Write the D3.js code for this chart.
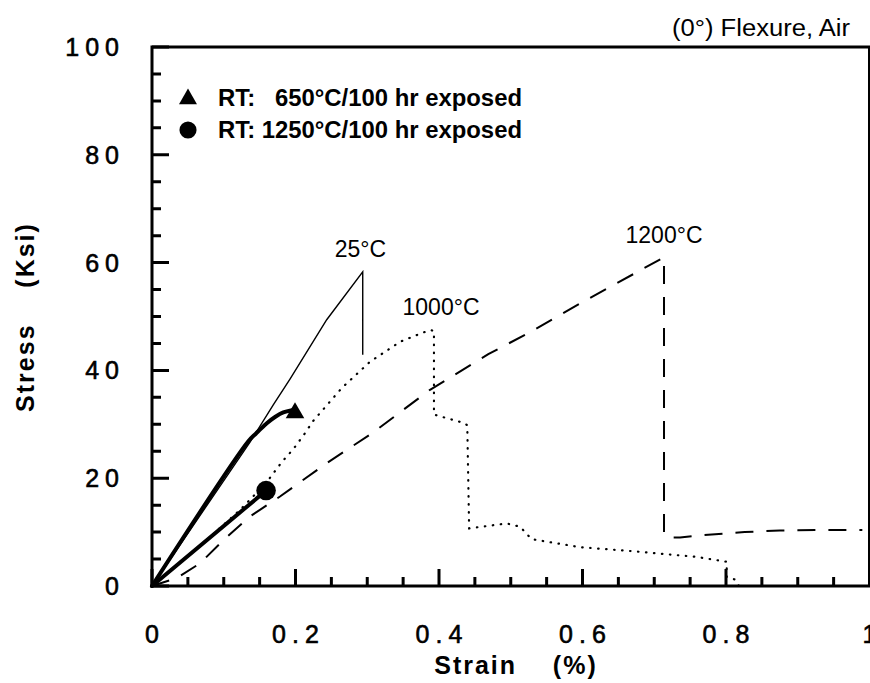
<!DOCTYPE html>
<html><head><meta charset="utf-8">
<script src="https://cdn.jsdelivr.net/npm/d3@7"></script>
<style>
body{margin:0;background:#fff}
svg{display:block}
text{font-family:"Liberation Sans",Arial,Helvetica,sans-serif;fill:#000}
</style>
</head><body>
<svg id="c" width="870" height="683"></svg>
<script>
// ---- data ----
const xTickLabels = [0, 0.2, 0.4, 0.6, 0.8, 1];
const yTickLabels = [0, 20, 40, 60, 80, 100];
const xMinorTicks = d3.range(0, 21).map(i => i * 0.05);
const yMinorTicks = d3.range(0, 21).map(i => i * 5);

// 25°C (solid thin)
const curve25C = [[0,0],[0.1366,26.7],[0.169,33.6],[0.1923,38.4],[0.2435,49.4],[0.2937,58.3],[0.2937,42.9]];
// RT after 650°C/100 hr (thick, ends with triangle)
const curve650 = [[0,0],[0.134,26.8],[0.145,28.3],[0.160,30.2],[0.172,31.4],[0.183,32.2],[0.195,32.6]];
const marker650 = [0.1993, 32.1];
// RT after 1250°C/100 hr (thick, ends with circle)
const curve1250 = [[0,0],[0.159,17.7]];
const marker1250 = [0.159, 17.7];
// 1000°C (dotted)
const curve1000C = [[0,0],[0.06,6.6],[0.1226,14.1],[0.1366,16.0],[0.16,19.3],[0.181,23.0],[0.197,25.4],[0.213,28.3],[0.2245,30.6],[0.265,36.8],[0.3038,41.6],[0.3456,45.3],[0.37,46.6],[0.3875,47.5],[0.393,47.3],[0.393,31.8],[0.436,30.2],[0.4394,29.8],[0.442,10.7],[0.4944,11.6],[0.513,11.0],[0.529,8.7],[0.5965,7.2],[0.666,6.5],[0.759,5.4],[0.801,4.5],[0.801,1.7],[0.8125,1.2],[0.818,0]];
// 1200°C (dashed)
const curve1200C = [[0,0],[0.035,1.5],[0.0669,4.2],[0.0994,8.5],[0.1366,12.9],[0.1784,16.6],[0.2435,22.8],[0.3084,28.5],[0.3875,36.4],[0.4687,43.0],[0.5268,47.1],[0.5965,52.4],[0.7136,61.0],[0.7136,9.6],[0.72,9.0],[0.736,9.0],[0.764,9.4],[0.826,10.0],[0.875,10.3],[0.945,10.4],[0.99,10.4]];

const curveLabels = [
  {text:"25°C", x:0.2905, y:61.0},
  {text:"1000°C", x:0.4028, y:50.3},
  {text:"1200°C", x:0.7136, y:63.6}
];
const legendItems = [
  {text:"RT:\u00a0\u00a0 650°C/100 hr exposed", shape:"triangle"},
  {text:"RT: 1250°C/100 hr exposed", shape:"circle"}
];
const titleText = "(0°) Flexure, Air";
const xTitle = "Strain\u00a0\u00a0\u00a0\u00a0(%)";
const yTitle = "Stress\u00a0\u00a0\u00a0\u00a0(Ksi)";

// ---- chart ----
const svg = d3.select("#c");
const x = d3.scaleLinear([0,1],[152,869.5]);
const y = d3.scaleLinear([0,100],[586,47]);
const line = d3.line().x(d=>x(d[0])).y(d=>y(d[1]));

// curves
svg.append("path").datum(curve1200C).attr("d",line)
  .attr("fill","none").attr("stroke","#000").attr("stroke-width",2)
  .attr("stroke-dasharray","18,13");
svg.append("path").datum(curve1000C).attr("d",line)
  .attr("fill","none").attr("stroke","#000").attr("stroke-width",2.2)
  .attr("stroke-linecap","round").attr("stroke-dasharray","0.5,7.5");
svg.append("path").datum(curve25C).attr("d",line)
  .attr("fill","none").attr("stroke","#000").attr("stroke-width",1.4);
svg.append("path").datum(curve650).attr("d",d3.line().x(d=>x(d[0])).y(d=>y(d[1])).curve(d3.curveCatmullRom))
  .attr("fill","none").attr("stroke","#000").attr("stroke-width",4).attr("stroke-linecap","round");
svg.append("path").datum(curve1250).attr("d",line)
  .attr("fill","none").attr("stroke","#000").attr("stroke-width",4).attr("stroke-linecap","round");

const tri = d3.symbol().type(d3.symbolTriangle).size(150);
const circ = d3.symbol().type(d3.symbolCircle).size(300);
svg.append("path").attr("d",tri()).attr("transform",`translate(${x(marker650[0])},${y(marker650[1])})`);
svg.append("path").attr("d",circ()).attr("transform",`translate(${x(marker1250[0])},${y(marker1250[1])})`);

// frame
svg.append("rect").attr("x",x(0)).attr("y",y(100)).attr("width",x(1)-x(0)).attr("height",y(0)-y(100))
  .attr("fill","none").attr("stroke","#000").attr("stroke-width",3);

// inward ticks
let tp = "";
yMinorTicks.forEach((d,i)=>{ const L = (i%4===0)?17:9; tp += `M${x(0)},${y(d)}h${L}`; });
xMinorTicks.forEach((d,i)=>{ const L = (i%4===0)?17:9; tp += `M${x(d)},${y(0)}v${-L}`; });
svg.append("path").attr("d",tp).attr("fill","none").attr("stroke","#000").attr("stroke-width",3);

// tick labels
svg.append("g").selectAll("text").data(yTickLabels).join("text")
  .attr("x",125).attr("y",d=>y(d)+9)
  .attr("text-anchor","end").attr("font-size",25).attr("letter-spacing","6px")
  .attr("stroke","#000").attr("stroke-width",0.6)
  .text(d=>String(d));
svg.append("g").selectAll("text").data(xTickLabels).join("text")
  .attr("x",d=>x(d)+3).attr("y",y(0)+57)
  .attr("text-anchor","middle").attr("font-size",25).attr("letter-spacing","6px")
  .attr("stroke","#000").attr("stroke-width",0.6)
  .text(d=>String(d));

// axis titles
svg.append("text").attr("x",516).attr("y",674).attr("text-anchor","middle")
  .attr("font-size",25).attr("font-weight","bold").attr("letter-spacing","2px").text(xTitle);
svg.append("text").attr("transform","translate(34,317) rotate(-90)").attr("text-anchor","middle")
  .attr("font-size",25).attr("font-weight","bold").attr("letter-spacing","2px").text(yTitle);

// title
svg.append("text").attr("x",672).attr("y",36).attr("font-size",23)
  .attr("textLength",178).attr("lengthAdjust","spacingAndGlyphs").text(titleText);

// curve labels
svg.append("g").selectAll("text").data(curveLabels).join("text")
  .attr("x",d=>x(d.x)).attr("y",d=>y(d.y)).attr("text-anchor","middle")
  .attr("font-size",23).text(d=>d.text);

// legend
const lg = svg.append("g");
legendItems.forEach((d,i)=>{
  const cy = 98 + i*32;
  lg.append("path").attr("d",(d.shape==="triangle"?d3.symbol().type(d3.symbolTriangle).size(140):d3.symbol().type(d3.symbolCircle).size(230))())
    .attr("transform",`translate(188,${cy+(d.shape==="triangle"?1:0)})`);
  lg.append("text").attr("x",218).attr("y",cy+8).attr("font-size",23).attr("font-weight","bold")
    .attr("textLength",304).attr("lengthAdjust","spacingAndGlyphs").text(d.text);
});
</script>
</body></html>
